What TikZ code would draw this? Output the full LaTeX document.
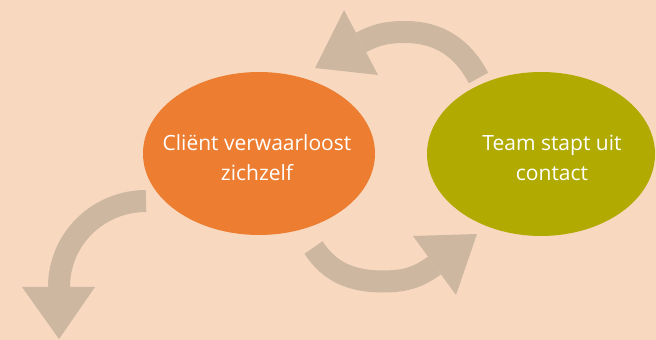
\documentclass[tikz,border=0pt]{standalone}
\usepackage{fontspec}
\setmainfont{Open Sans}
\usetikzlibrary{shapes.geometric}
\definecolor{bgc}{HTML}{F8D9BF}
\definecolor{bandc}{HTML}{CDB7A0}
\definecolor{orangec}{HTML}{ED7D31}
\definecolor{olivec}{HTML}{B1AA00}
\begin{document}
\begin{tikzpicture}[x=1pt,y=1pt,
  band/.style={draw=bandc, line width=22pt, line cap=butt},
  head/.style={fill=bandc, draw=none},
  blob/.style={ellipse, draw=none, inner sep=0pt},
  lbl/.style={text=white, align=center, inner sep=0pt, font=\fontsize{21}{29.5}\selectfont}]
\fill[bgc] (0,0) rectangle (656,340);
\useasboundingbox (0,0) rectangle (656,340);
% ellipses
\node[blob, fill=orangec, minimum width=232pt, minimum height=163pt] (client) at (259,186.5) {};
\node[blob, fill=olivec, minimum width=228pt, minimum height=164pt] (team) at (541,186) {};
\node[lbl] (clienttext) at (257,182.5) {Cliënt verwaarloost\\zichzelf};
\node[lbl] (teamtext) at (552,182) {Team stapt uit\\contact};
% top arrow
\coordinate (t1) at (478.5,262);
\coordinate (t2) at (405,308);
\coordinate (t3) at (361,297.5);
\draw[band] (t1) to[out=117.8,in=0] (t2) to[out=180,in=27.6] (t3);
\fill[head] (344,330) -- (378,265) -- (315,272) -- cycle;
% bottom arrow
\coordinate (b1) at (313.5,92.5);
\coordinate (b2) at (383,58.5);
\coordinate (b3) at (434.5,74.5);
\draw[band] (b1) to[out=-57,in=180] (b2) to[out=0,in=216] (b3);
\fill[head] (413,104) -- (477,106) -- (456,45) -- cycle;
% left arrow
\coordinate (l1) at (146,139);
\coordinate (l2) at (59,53);
\draw[band] (l1) to[out=180,in=90] (l2);
\fill[head] (22,53) -- (95,53) -- (59,1) -- cycle;
\end{tikzpicture}
\end{document}
